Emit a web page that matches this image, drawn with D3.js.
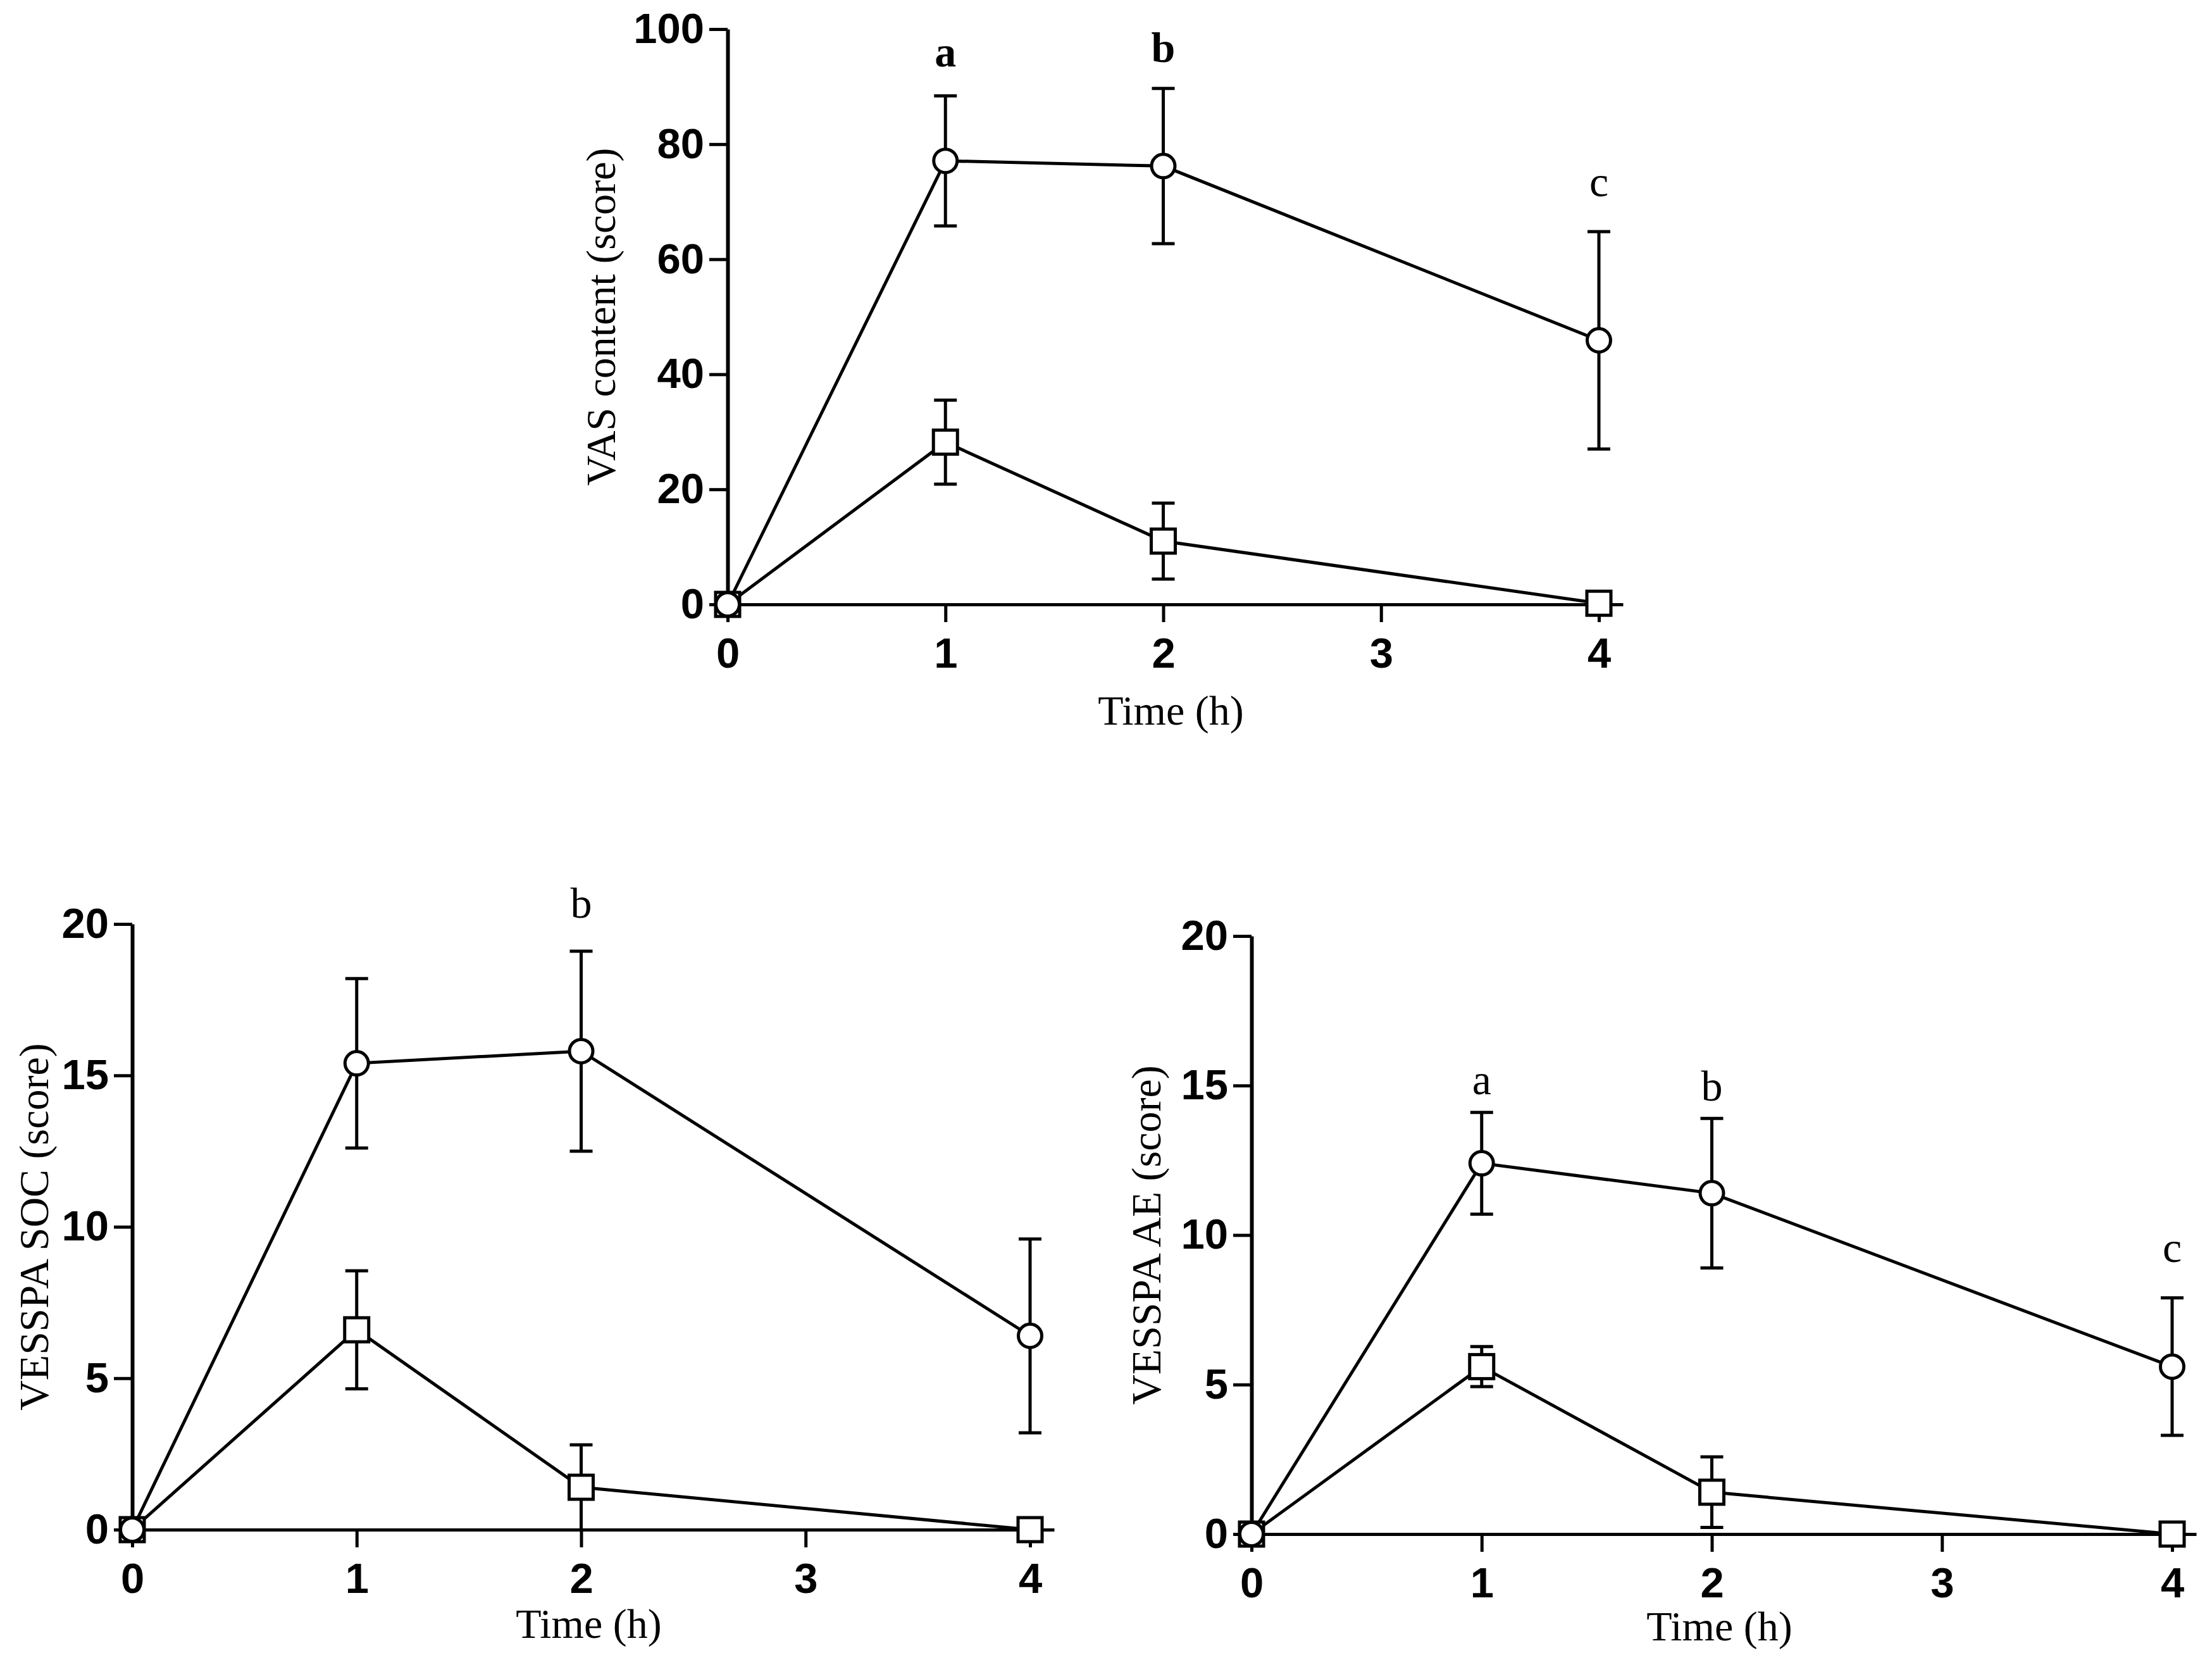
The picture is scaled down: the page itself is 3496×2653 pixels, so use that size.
<!DOCTYPE html>
<html>
<head>
<meta charset="utf-8">
<script src="https://cdn.jsdelivr.net/npm/d3@7"></script>
<style>
  body { margin: 0; background: #fff; }
  svg { display: block; }
</style>
</head>
<body>
<svg id="chart" width="3496" height="2653"></svg>
<script>
// time points and axis ticks
const times = [0, 1, 2, 4];
const xTicks = [0, 1, 2, 3, 4];
const vasTicks = [0, 20, 40, 60, 80, 100];
const vesspaTicks = [0, 5, 10, 15, 20];

// VAS content (score)
const vasCircle = [0, 77.1, 76.2, 45.9];
const vasCircleErr = [0, 11.3, 13.5, 18.9];
const vasSquare = [0, 28.2, 11.0, 0.2];
const vasSquareErr = [0, 7.3, 6.6, 0];
const vasLetters = ["a", "b", "c"];
const vasLetterTimes = [1, 2, 4];
const vasLetterLevels = [93.5, 94.3, 71];
const vasLetterBold = [true, true, false];

// VESSPA SOC (score)
const socCircle = [0, 15.4, 15.8, 6.4];
const socCircleErr = [0, 2.8, 3.3, 3.2];
const socSquare = [0, 6.6, 1.4, 0];
const socSquareErr = [0, 1.95, 1.4, 0];
const socLetters = ["b"];
const socLetterTimes = [2];
const socLetterLevels = [20.2];
const socLetterBold = [false];

// VESSPA AE (score)
const aeCircle = [0, 12.4, 11.4, 5.6];
const aeCircleErr = [0, 1.7, 2.5, 2.3];
const aeSquare = [0, 5.6, 1.4, 0];
const aeSquareErr = [0, 0.67, 1.18, 0];
const aeLetters = ["a", "b", "c"];
const aeLetterTimes = [1, 2, 4];
const aeLetterLevels = [14.7, 14.5, 9.1];
const aeLetterBold = [false, false, false];

const svg = d3.select("#chart");
const sansBold = "'Liberation Sans', Arial, sans-serif";
const serif = "'Liberation Serif', 'Times New Roman', serif";

function drawPanel(opt) {
    const x = d3.scaleLinear().domain([0, 4]).range([opt.left, opt.right]);
    const y = d3.scaleLinear().domain([0, opt.yMax]).range([opt.bottom, opt.top]);
    const g = svg.append("g");

    // x axis, line runs a bit past the last tick
    const xEnd = 4 + 38 / (x(1) - x(0));
    const xAxisScale = d3.scaleLinear().domain([0, xEnd]).range([x(0), x(xEnd)]);
    const xAxis = g.append("g")
        .attr("transform", `translate(0,${y(0)})`)
        .call(d3.axisBottom(xAxisScale).tickValues(xTicks).tickSize(28).tickSizeOuter(0).tickPadding(24).tickFormat(d3.format("d")));
    xAxis.select(".domain").attr("stroke-width", 5);
    xAxis.selectAll(".tick line").attr("stroke-width", 5);
    xAxis.selectAll("text")
        .attr("font-family", sansBold).attr("font-weight", "bold").attr("font-size", 67).attr("fill", "#000");

    const yAxis = g.append("g")
        .attr("transform", `translate(${x(0)},0)`)
        .call(d3.axisLeft(y).tickValues(opt.yTicks).tickSize(29).tickSizeOuter(0).tickPadding(8));
    yAxis.select(".domain").attr("stroke-width", 6);
    yAxis.selectAll(".tick line").attr("stroke-width", 5);
    yAxis.selectAll("text")
        .attr("font-family", sansBold).attr("font-weight", "bold").attr("font-size", 67).attr("fill", "#000");

    const series = [
        { vals: opt.square, errs: opt.squareErr, shape: "square" },
        { vals: opt.circle, errs: opt.circleErr, shape: "circle" }
    ];

    const line = d3.line().x((d, i) => x(times[i])).y(d => y(d));
    const cap = 18;

    series.forEach(s => {
        // error bars
        s.vals.forEach((v, i) => {
            if (!s.errs[i]) return;
            const t = x(times[i]);
            const hi = y(v + s.errs[i]);
            const lo = y(Math.max(0, v - s.errs[i]));
            g.append("line").attr("x1", t).attr("x2", t).attr("y1", hi).attr("y2", lo)
                .attr("stroke", "#000").attr("stroke-width", 5);
            g.append("line").attr("x1", t - cap).attr("x2", t + cap).attr("y1", hi).attr("y2", hi)
                .attr("stroke", "#000").attr("stroke-width", 5);
            if (v - s.errs[i] > 0) {
                g.append("line").attr("x1", t - cap).attr("x2", t + cap).attr("y1", lo).attr("y2", lo)
                    .attr("stroke", "#000").attr("stroke-width", 5);
            }
        });
        g.append("path").datum(s.vals)
            .attr("d", line)
            .attr("fill", "none")
            .attr("stroke", "#000")
            .attr("stroke-width", 5);
    });

    // markers on top
    series.forEach(s => {
        s.vals.forEach((v, i) => {
            if (s.shape === "circle") {
                g.append("circle").attr("cx", x(times[i])).attr("cy", y(v)).attr("r", 18.5)
                    .attr("fill", "#fff").attr("stroke", "#000").attr("stroke-width", 5);
            } else {
                g.append("rect").attr("x", x(times[i]) - 19).attr("y", y(v) - 19)
                    .attr("width", 38).attr("height", 38)
                    .attr("fill", "#fff").attr("stroke", "#000").attr("stroke-width", 5);
            }
        });
    });

    // significance letters
    opt.letters.forEach((l, i) => {
        g.append("text")
            .attr("x", x(opt.letterTimes[i]))
            .attr("y", y(opt.letterLevels[i]))
            .attr("text-anchor", "middle")
            .attr("font-family", serif)
            .attr("font-weight", opt.letterBold[i] ? "bold" : "normal")
            .attr("font-size", 68)
            .text(l);
    });

    // axis titles
    g.append("text")
        .attr("x", x(2) + 12)
        .attr("y", opt.xTitleY)
        .attr("text-anchor", "middle")
        .attr("font-family", serif)
        .attr("font-size", 66)
        .text("Time (h)");

    g.append("text")
        .attr("transform", `translate(${opt.yTitleX},${(y(0) + y(opt.yMax)) / 2}) rotate(-90)`)
        .attr("text-anchor", "middle")
        .attr("font-family", serif)
        .attr("font-size", 66)
        .text(opt.yTitle);
}

drawPanel({
    left: 1150, right: 2527, bottom: 955, top: 46, yMax: 100, yTicks: vasTicks,
    circle: vasCircle, circleErr: vasCircleErr, square: vasSquare, squareErr: vasSquareErr,
    letters: vasLetters, letterTimes: vasLetterTimes, letterLevels: vasLetterLevels, letterBold: vasLetterBold,
    xTitleY: 1145, yTitleX: 972, yTitle: "VAS content (score)"
});

drawPanel({
    left: 209, right: 1628, bottom: 2417, top: 1460, yMax: 20, yTicks: vesspaTicks,
    circle: socCircle, circleErr: socCircleErr, square: socSquare, squareErr: socSquareErr,
    letters: socLetters, letterTimes: socLetterTimes, letterLevels: socLetterLevels, letterBold: socLetterBold,
    xTitleY: 2588, yTitleX: 76, yTitle: "VESSPA SOC (score)"
});

drawPanel({
    left: 1978, right: 3433, bottom: 2424, top: 1479, yMax: 20, yTicks: vesspaTicks,
    circle: aeCircle, circleErr: aeCircleErr, square: aeSquare, squareErr: aeSquareErr,
    letters: aeLetters, letterTimes: aeLetterTimes, letterLevels: aeLetterLevels, letterBold: aeLetterBold,
    xTitleY: 2592, yTitleX: 1834, yTitle: "VESSPA AE (score)"
});
</script>
</body>
</html>
